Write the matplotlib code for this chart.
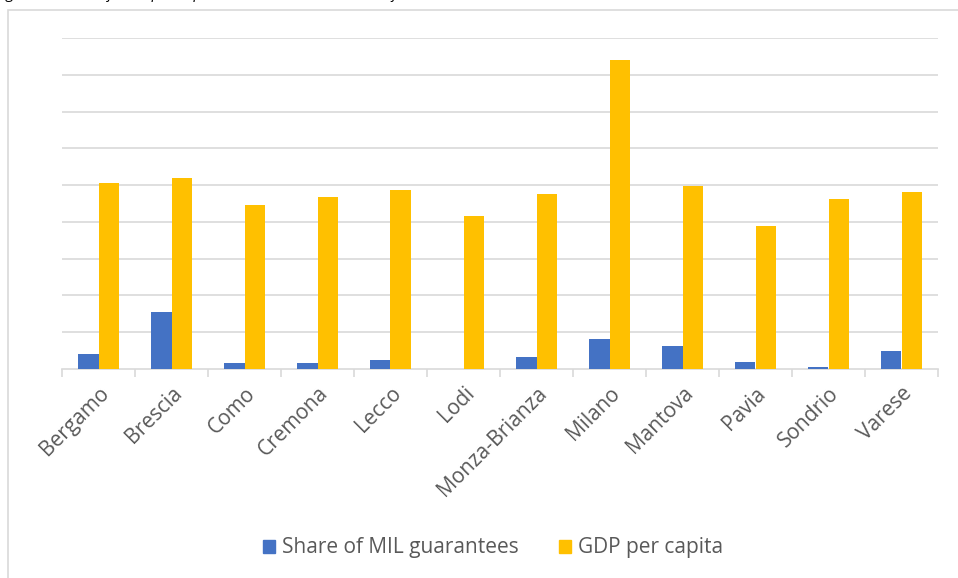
import numpy as np
import matplotlib.pyplot as plt
from matplotlib.patches import Rectangle, Patch

# Provinces of Lombardy
provinces = ["Bergamo", "Brescia", "Como", "Cremona", "Lecco", "Lodi",
             "Monza-Brianza", "Milano", "Mantova", "Pavia", "Sondrio", "Varese"]

# Values (axis has no labels, units = gridline steps)
share_mil = [0.40, 1.54, 0.15, 0.15, 0.24, 0.0, 0.33, 0.81, 0.63, 0.19, 0.06, 0.49]
gdp_pc = [5.05, 5.18, 4.46, 4.67, 4.86, 4.16, 4.76, 8.40, 4.97, 3.89, 4.62, 4.81]

blue = "#4472C4"
yellow = "#FFC000"
grid_col = "#D9D9D9"
text_col = "#595959"

plt.rcParams['font.family'] = ['Open Sans', 'DejaVu Sans']

fig = plt.figure(figsize=(9.58, 5.78), dpi=100)
W, H = 958, 578

# outer chart frame (partly cut off by the image edges)
fig.patches.append(Rectangle((8 / W, -0.1), 1.2, 1 - 10 / H + 0.1,
                             transform=fig.transFigure, fill=False,
                             edgecolor=grid_col, linewidth=1.2))

# cut-off caption above the chart (only descenders remain visible)
fig.text(-0.005, 1 + 1.5 / H, "Figure 2: Share of total per capita MIL credit and the level of added value in Lombard areas, 2019",
         fontsize=11, style='italic', color='black', va='baseline', ha='left')

ax = fig.add_axes([62 / W, 1 - 369 / H, 876 / W, 331 / H])

x = np.arange(len(provinces))
w = 0.283
ax.bar(x - w / 2, share_mil, w, color=blue, zorder=3)
ax.bar(x + w / 2, gdp_pc, w, color=yellow, zorder=3)

ax.set_xlim(-0.5, len(provinces) - 0.5)
ax.set_ylim(0, 9)
ax.set_yticks(np.arange(1, 10))
ax.yaxis.grid(True, color=grid_col, linewidth=1.2)
ax.tick_params(axis='y', length=0, labelleft=False)

ax.set_xticks(x)
ax.set_xticklabels(provinces, rotation=45, ha='right', rotation_mode='anchor',
                   fontsize=15, color=text_col)
ax.tick_params(axis='x', which='major', length=0, pad=10)
ax.set_xticks(np.arange(-0.5, len(provinces)), minor=True)
ax.tick_params(axis='x', which='minor', length=6, width=1.2, color=grid_col)

for s in ['top', 'right', 'left']:
    ax.spines[s].set_visible(False)
ax.spines['bottom'].set_color(grid_col)
ax.spines['bottom'].set_linewidth(1.2)

handles = [Patch(color=blue, label="Share of MIL guarantees"),
           Patch(color=yellow, label="GDP per capita")]
fig.legend(handles=handles, loc='center', bbox_to_anchor=(493 / W, 1 - 548 / H),
           ncol=2, frameon=False, fontsize=15, labelcolor=text_col,
           handlelength=0.58, handleheight=0.58, handletextpad=0.35,
           columnspacing=1.9)

fig.savefig("out.png", dpi=100)
